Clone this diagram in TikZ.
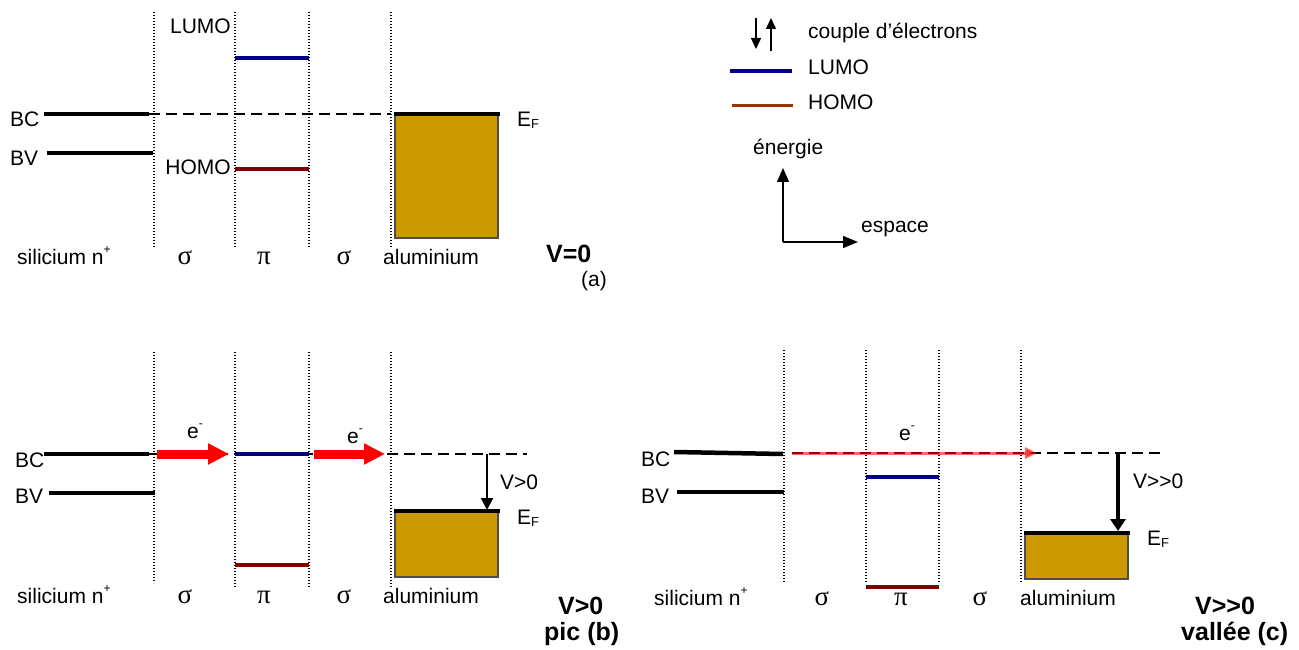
\documentclass[tikz,border=0pt]{standalone}
\usepackage{fontspec}
\setmainfont{Liberation Sans}
\newfontfamily\grk{Liberation Serif}
\usetikzlibrary{arrows.meta}
\definecolor{alfill}{RGB}{204,153,0}
\definecolor{algray}{RGB}{77,77,77}
\definecolor{lumoblue}{RGB}{0,0,128}
\definecolor{homored}{RGB}{128,0,0}
\definecolor{homoleg}{RGB}{153,51,0}
\newcommand{\sub}[1]{\raisebox{-2pt}{\fontsize{13}{13}\selectfont #1}}
\newcommand{\supp}[1]{\raisebox{11pt}{\fontsize{12}{12}\selectfont #1}}
\tikzset{
 lbl/.style={anchor=base west, inner sep=0pt, font=\fontsize{21}{25}\selectfont},
 bigl/.style={anchor=base west, inner sep=0pt, font=\fontsize{25}{30}\selectfont\bfseries},
 grl/.style={anchor=base, inner sep=0pt, font=\fontsize{27}{30}\selectfont\grk},
 sep/.style={line width=1.3pt, dash pattern=on 1.3pt off 1.7pt},
 band/.style={line width=4.5pt},
 dashlvl/.style={line width=2.2pt, dash pattern=on 11pt off 6pt},
 lumo/.style={lumoblue, line width=4.5pt},
 homo/.style={homored, line width=3.5pt},
 albox/.style={fill=alfill, draw=algray, line width=1.5pt},
 bigarrow/.style={red, line width=9pt, -{Triangle[length=21pt,width=20pt]}},
 varrow/.style={line width=2pt, -{Triangle[length=12pt,width=12pt]}},
 thinarrow/.style={line width=1.4pt, -{Triangle[length=11pt,width=10pt]}},
}
\begin{document}
\begin{tikzpicture}[x=1pt,y=-1pt]
\useasboundingbox (0,0) rectangle (1299,650);

% ================= panel (a) =================
\foreach \x/\y in {154/247,235/247,309/247,391/247}{
  \draw[sep] (\x,12) -- (\x,\y);
}
\draw[albox] (395,114) rectangle (498,238);
\coordinate (a-bc1) at (44,114);
\coordinate (a-bc2) at (149,114);
\coordinate (a-al1) at (391,114);
\coordinate (a-ef1) at (394,114);
\coordinate (a-ef2) at (500,114);
\draw[band] (a-bc1) -- (a-bc2);
\draw[dashlvl] (a-bc2) -- (a-al1);
\draw[band] (a-ef1) -- (a-ef2);
\draw[band] (47,153) -- (153,153);
\draw[lumo] (235,58) -- (309,58);
\draw[homo] (235,169) -- (309,169);
\node[lbl] (a-BC) at (10,127) {BC};
\node[lbl] (a-BV) at (10,165) {BV};
\node[lbl, anchor=base east] (a-LUMO) at (231,34) {LUMO};
\node[lbl, anchor=base east] (a-HOMO) at (231,175) {HOMO};
\node[lbl] (a-EF) at (517,127) {E\sub{F}};
\node[lbl] (a-si) at (17,264) {silicium n\supp{+}};
\node[grl] (a-s1) at (185,264) {σ};
\node[grl] (a-pi) at (264,264) {π};
\node[grl] (a-s2) at (344,264) {σ};
\node[lbl] (a-al) at (383,264) {aluminium};
\node[bigl] (a-V) at (546,262) {V=0};
\node[lbl, anchor=base] (a-a) at (594,286) {(a)};

% ================= legend =================
\coordinate (l-d1) at (756,18);
\coordinate (l-d2) at (756,49);
\coordinate (l-u1) at (771,51);
\coordinate (l-u2) at (771,18);
\draw[thinarrow] (l-d1) -- (l-d2);
\draw[thinarrow] (l-u1) -- (l-u2);
\node[lbl] (l-couple) at (808,39) {couple d’électrons};
\draw[lumo, line width=4pt] (730,71) -- (792,71);
\node[lbl] (l-lumo) at (808,75) {LUMO};
\draw[homoleg, line width=3pt] (732,106) -- (793,106);
\node[lbl] (l-homo) at (808,110) {HOMO};
\node[lbl] (l-en) at (753,155) {énergie};
\node[lbl] (l-es) at (861,233) {espace};
\coordinate (l-o) at (783,242);
\coordinate (l-y) at (783,168);
\coordinate (l-x) at (858,242);
\draw[line width=1.4pt, -{Triangle[length=14pt,width=12pt]}] (l-o) -- (l-y);
\draw[line width=1.4pt, -{Triangle[length=15pt,width=12pt]}] (l-o) -- (l-x);

% ================= panel (b) =================
\draw[sep] (154,352) -- (154,583);
\foreach \x in {235,309,391}{
  \draw[sep] (\x,352) -- (\x,588);
}
\draw[albox] (395,511) rectangle (498,577);
\coordinate (b-bc1) at (44,454);
\coordinate (b-bc2) at (149,454);
\coordinate (b-end) at (527,454);
\draw[dashlvl, line width=1.8pt] (b-bc2) -- (b-end);
\draw[band] (b-bc1) -- (b-bc2);
\draw[band] (49,493) -- (155,493);
\draw[lumo] (235,454) -- (309,454);
\draw[homo] (235,565) -- (309,565);
\coordinate (b-a1s) at (157,454);
\coordinate (b-a1e) at (229,454);
\coordinate (b-a2s) at (314,454);
\coordinate (b-a2e) at (385,454);
\draw[bigarrow] (b-a1s) -- (b-a1e);
\draw[bigarrow] (b-a2s) -- (b-a2e);
\draw[band] (394,511) -- (500,511);
\coordinate (b-v1) at (487,454);
\coordinate (b-v2) at (487,510);
\draw[varrow] (b-v1) -- (b-v2);
\node[lbl] (b-e1) at (187,438) {e\supp{-}};
\node[lbl] (b-e2) at (347,443) {e\supp{-}};
\node[lbl] (b-BC) at (15,467) {BC};
\node[lbl] (b-BV) at (15,503) {BV};
\node[lbl] (b-Vl) at (500,489) {V>0};
\node[lbl] (b-EF) at (517,524) {E\sub{F}};
\node[lbl] (b-si) at (17,603) {silicium n\supp{+}};
\node[grl] (b-s1) at (185,603) {σ};
\node[grl] (b-pi) at (264,603) {π};
\node[grl] (b-s2) at (344,603) {σ};
\node[lbl] (b-al) at (383,603) {aluminium};
\node[bigl] (b-V) at (558,614) {V>0};
\node[bigl] (b-pic) at (544,640) {pic (b)};

% ================= panel (c) =================
\foreach \x in {784,866,939,1021}{
  \draw[sep] (\x,350) -- (\x,582);
}
\draw[albox] (1025,533) rectangle (1128,579);
\coordinate (c-bc1) at (674,452);
\coordinate (c-bc2) at (783,454);
\draw[band] (c-bc1) -- (c-bc2);
\draw[band] (677,492) -- (784,492);
\coordinate (c-d1) at (792,453);
\coordinate (c-d2) at (1162,453);
\draw[dashlvl, line width=1.8pt] (c-d1) -- (c-d2);
\coordinate (c-r2) at (1037,453);
\draw[red, opacity=0.6, line width=3pt, -{Triangle[length=12pt,width=11pt]}] (c-d1) -- (c-r2);
\draw[lumo] (866,477) -- (939,477);
\draw[homo] (866,587) -- (939,587);
\draw[band] (1024,533) -- (1130,533);
\coordinate (c-v1) at (1118,453);
\coordinate (c-v2) at (1118,531);
\draw[line width=3.2pt, -{Triangle[length=12pt,width=15pt]}] (c-v1) -- (c-v2);
\node[lbl] (c-e) at (899,440) {e\supp{-}};
\node[lbl] (c-BC) at (641,466) {BC};
\node[lbl] (c-BV) at (641,503) {BV};
\node[lbl] (c-Vl) at (1133,488) {V>{}>0};
\node[lbl] (c-EF) at (1147,545) {E\sub{F}};
\node[lbl] (c-si) at (654,605) {silicium n\supp{+}};
\node[grl] (c-s1) at (822,605) {σ};
\node[grl] (c-pi) at (901,605) {π};
\node[grl] (c-s2) at (980,605) {σ};
\node[lbl] (c-al) at (1020,605) {aluminium};
\node[bigl] (c-V) at (1195,614) {V>{}>0};
\node[bigl] (c-val) at (1181,640) {vallée (c)};
\end{tikzpicture}
\end{document}
